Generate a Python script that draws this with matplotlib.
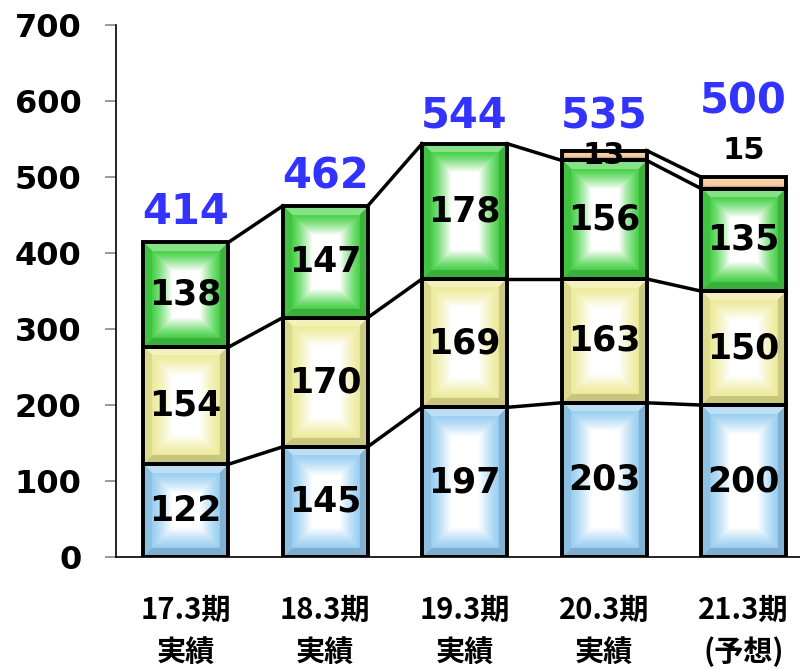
import matplotlib.pyplot as plt
import numpy as np

plt.rcParams['font.family'] = ['DejaVu Sans', 'Noto Sans CJK JP']
plt.rcParams['font.weight'] = 'bold'

# data
periods = ['17.3期\n実績', '18.3期\n実績', '19.3期\n実績', '20.3期\n実績', '21.3期\n(予想)']
blue_vals = [122, 145, 197, 203, 200]
yellow_vals = [154, 170, 169, 163, 150]
green_vals = [138, 147, 178, 156, 135]
orange_vals = [0, 0, 0, 13, 15]
totals = [414, 462, 544, 535, 500]
yticks = [0, 100, 200, 300, 400, 500, 600, 700]

series = [blue_vals, yellow_vals, green_vals, orange_vals]
edge_cols = [(0.60, 0.81, 0.95), (0.93, 0.92, 0.60), (0.28, 0.82, 0.28), (0.97, 0.80, 0.62)]

fig = plt.figure(figsize=(8, 6.69), dpi=100)
ax = fig.add_axes([0.145, 0.1674, 0.855, 0.795])

x = np.arange(len(periods))
width = 0.61
px_per_x = 139.5
px_per_y = 0.76


def bevel(w_px, h_px, col, b=9):
    nx = max(int(w_px), 2)
    ny = max(int(h_px), 2)
    col = np.array(col)
    U, V = np.meshgrid(np.arange(nx) + 0.5, np.arange(ny) + 0.5)
    dl, dr, db, dt = U, nx - U, V, ny - V
    d = np.minimum(np.minimum(dl, dr), np.minimum(db, dt))
    img = np.zeros((ny, nx, 3))
    b = min(b, ny / 3)
    # inner glow towards white
    di = np.clip(d - b, 0, None)
    t = np.clip(di / ((nx - 2 * b) * 0.30), 0, 1)
    f = t ** 1.2
    for k in range(3):
        img[..., k] = col[k] + (1 - col[k]) * f
    # bevel frame
    inb = d < b
    shade = np.ones((ny, nx))
    light = np.zeros((ny, nx))
    side = np.argmin(np.stack([dl, dr, db, dt]), axis=0)
    shade[(side == 0) & inb] = 0.93
    shade[(side == 1) & inb] = 0.86
    shade[(side == 2) & inb] = 0.84
    light[(side == 3) & inb] = 0.35
    for k in range(3):
        base = np.where(inb, col[k], img[..., k])
        base = base * shade + (1 - base) * light
        img[..., k] = base
    return np.clip(img, 0, 1)


bottoms = np.zeros(len(periods))
for s, vals in enumerate(series):
    vals = np.array(vals, dtype=float)
    for i in range(len(periods)):
        if vals[i] <= 0:
            continue
        b = bottoms[i]
        img = bevel(width * px_per_x, vals[i] * px_per_y, edge_cols[s], b=(3 if s == 3 else 9))
        ax.imshow(img, extent=(x[i] - width / 2, x[i] + width / 2, b, b + vals[i]),
                  aspect='auto', origin='lower', zorder=2, interpolation='bilinear')
    ax.bar(x, vals, width, bottom=bottoms, facecolor='none',
           edgecolor=['black' if v > 0 else 'none' for v in vals], linewidth=2.8, zorder=3)
    tops = bottoms + vals
    # connectors
    for i in range(len(periods) - 1):
        if vals[i] > 0 and vals[i + 1] > 0:
            ax.plot([x[i] + width / 2, x[i + 1] - width / 2], [tops[i], tops[i + 1]],
                    color='black', lw=2.5, zorder=1.5)
    # value labels
    for i in range(len(periods)):
        if vals[i] <= 0:
            continue
        if s == 3 and i == 4:
            ax.text(x[i], tops[i] + 35, str(int(vals[i])), ha='center', va='center',
                    fontsize=22, fontweight='bold', color='black', zorder=5)
        else:
            ax.text(x[i], bottoms[i] + vals[i] / 2, str(int(vals[i])), ha='center', va='center',
                    fontsize=(22 if s == 3 else 25), fontweight='bold', color='black', zorder=5)
    bottoms = tops

total_offsets = [40, 39, 37, 45, 99]
for i, tot in enumerate(totals):
    ax.text(x[i], tot + total_offsets[i], str(tot), ha='center', va='center',
            fontsize=30, fontweight='bold', color='#3333ff', zorder=5)

ax.set_xlim(-0.5, 4.405)
ax.set_ylim(0, 700)
ax.set_yticks(yticks)
ax.set_yticklabels([str(t) for t in yticks], fontsize=23, fontweight='bold')
ax.set_xticks(x)
ax.set_xticklabels(periods, fontsize=21, fontweight='bold', linespacing=1.5,
                   family=['Noto Sans CJK JP', 'DejaVu Sans'])
ax.tick_params(axis='y', length=8, width=1.2, color='#888888', pad=17)
ax.tick_params(axis='x', length=0, pad=27)
ax.spines['top'].set_visible(False)
ax.spines['right'].set_visible(False)
ax.spines['left'].set_linewidth(1.2)
ax.spines['bottom'].set_linewidth(1.2)

fig.savefig('out.png', dpi=100, facecolor='white')
